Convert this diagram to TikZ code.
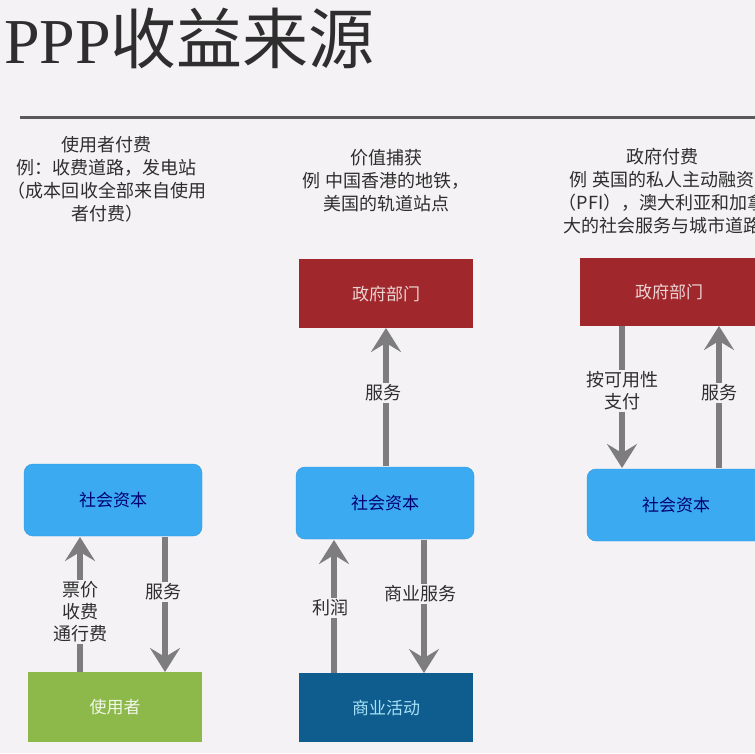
\documentclass[tikz,border=0pt]{standalone}
\usepackage{fontspec}
\setmainfont{Liberation Serif}
\newfontfamily\cjk{Noto Sans CJK SC}
\usetikzlibrary{arrows.meta}
\definecolor{bg}{HTML}{F4F2F4}
\definecolor{capblue}{HTML}{3BAAF0}
\definecolor{capedge}{HTML}{2C98DE}
\definecolor{usergreen}{HTML}{8DB84A}
\definecolor{govred}{HTML}{A0282C}
\definecolor{bizblue}{HTML}{0F5C8E}
\definecolor{arrowgray}{HTML}{7D7D7F}
\definecolor{txt}{HTML}{2E2E2E}
\tikzset{
  boxbase/.style={minimum width=178pt, minimum height=72pt, inner sep=0pt, font=\cjk\fontsize{17}{17}\selectfont},
  capbox/.style={boxbase, fill=capblue, draw=capedge, rounded corners=9pt, text=blue!45!black},
  userbox/.style={boxbase, fill=usergreen, text=white!88!usergreen},
  govbox/.style={boxbase, fill=govred, text=white!80!govred},
  bizbox/.style={boxbase, fill=bizblue, text=cyan!35!white},
  flow/.style={draw=arrowgray, line width=5.5pt, -{Stealth[length=24pt, width=30pt, inset=9pt]}},
  lbl/.style={fill=bg, text=txt, inner sep=2pt, align=center, font=\cjk\fontsize{18}{22}\selectfont},
  head/.style={text=txt, align=center, font=\cjk\fontsize{18}{23}\selectfont},
}
\begin{document}
\begin{tikzpicture}[x=1pt, y=-1pt]
\useasboundingbox (0,0) rectangle (755,753);
\clip (0,0) rectangle (755,753);
\fill[bg] (0,0) rectangle (755,753);
% title
\node[anchor=base west, inner sep=0pt, text=txt] (title) at (4,63)
  {\fontsize{64}{64}\selectfont PPP{\cjk\fontsize{66}{66}\selectfont 收益来源}};
\coordinate (ruleL) at (20,117);
\coordinate (ruleR) at (755,117);
\draw[line width=3pt, draw=black!65] (ruleL) -- (ruleR);
% headers
\node[head] (h1) at (107,179) {使用者付费\\例：收费道路，发电站\\（成本回收全部来自使用\\者付费）};
\node[head] (h2) at (386,181) {价值捕获\\例 中国香港的地铁，\\美国的轨道站点};
\node[head] (h3) at (662,191) {政府付费\\例 英国的私人主动融资\\（PFI），澳大利亚和加拿\\大的社会服务与城市道路};
% column 1
\node[capbox] (cap1) at (113,500) {社会资本};
\node[userbox, minimum width=174pt, minimum height=70pt] (user) at (115,707) {使用者};
\coordinate (c1a) at (80,537);
\coordinate (u1b) at (80,672);
\coordinate (c1b) at (165,537);
\coordinate (u1c) at (165,672);
\draw[flow] (u1b) -- (c1a);
\draw[flow] (c1b) -- (u1c);
\node[lbl] (l1) at (80,612) {票价\\收费\\通行费};
\node[lbl] (l2) at (163,592) {服务};
% column 2
\node[govbox, minimum width=174pt, minimum height=69pt] (gov2) at (386,293.5) {政府部门};
\node[capbox] (cap2) at (385,503) {社会资本};
\node[bizbox, minimum width=174pt, minimum height=69pt] (biz) at (386,707.5) {商业活动};
\coordinate (c2top) at (386,466);
\coordinate (g2bot) at (386,328);
\draw[flow] (c2top) -- (g2bot);
\node[lbl] (l3) at (383,393) {服务};
\coordinate (c2a) at (334,540);
\coordinate (b2a) at (334,673);
\coordinate (c2b) at (424,540);
\coordinate (b2b) at (424,673);
\draw[flow] (b2a) -- (c2a);
\draw[flow] (c2b) -- (b2b);
\node[lbl] (l4) at (330,608) {利润};
\node[lbl] (l5) at (420,594) {商业服务};
% column 3
\node[govbox, minimum height=68pt] (gov3) at (669,292) {政府部门};
\node[capbox] (cap3) at (676,505) {社会资本};
\coordinate (g3a) at (622,326);
\coordinate (c3a) at (622,468);
\coordinate (g3b) at (719,326);
\coordinate (c3b) at (719,468);
\draw[flow] (g3a) -- (c3a);
\draw[flow] (c3b) -- (g3b);
\node[lbl] (l6) at (622,391) {按可用性\\支付};
\node[lbl] (l7) at (719,393) {服务};
\end{tikzpicture}
\end{document}
